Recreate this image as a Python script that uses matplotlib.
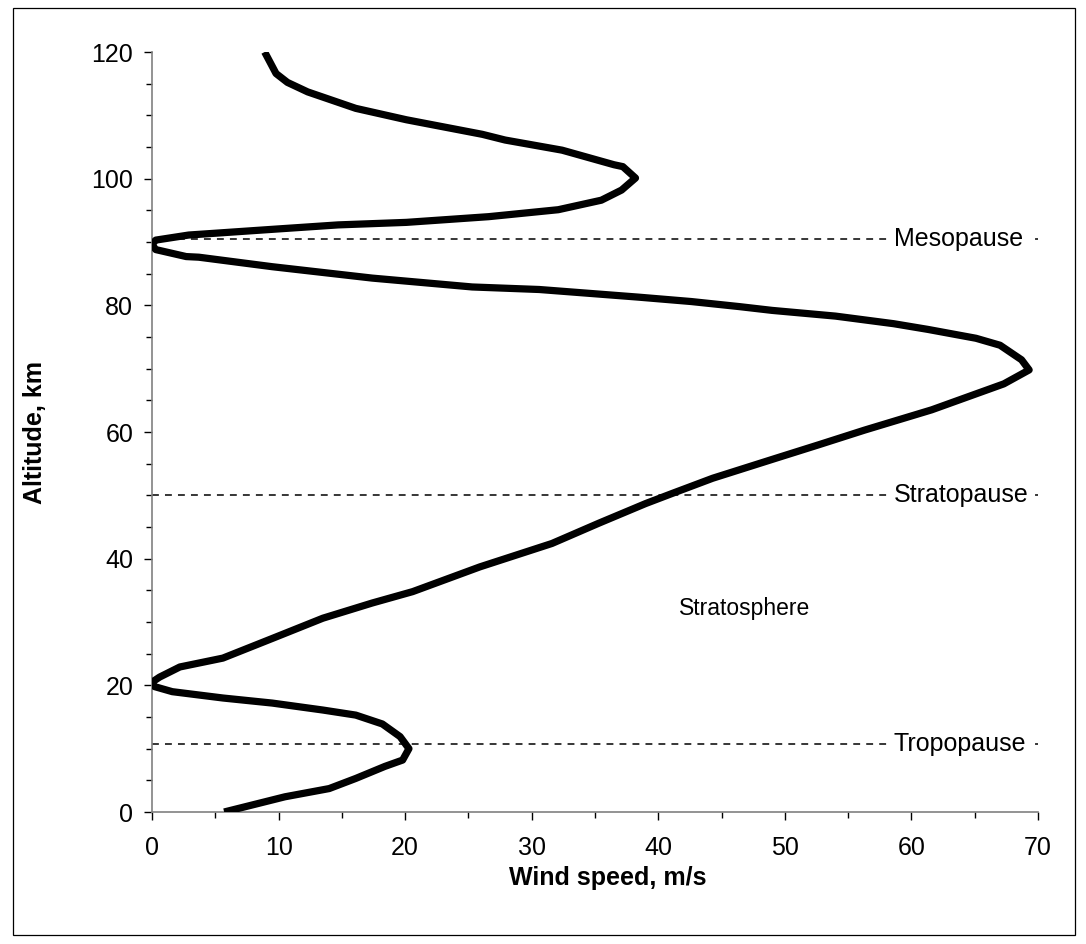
import matplotlib
matplotlib.use("Agg")
import matplotlib.pyplot as plt
from matplotlib.ticker import MultipleLocator
from matplotlib.patches import Rectangle

plt.rcParams['font.family'] = ['Liberation Sans', 'DejaVu Sans']

# Wind speed profile (m/s) vs altitude (km)
wind_speed = [5.7, 10.5, 14.0, 16.1, 18.4, 19.8, 20.3, 19.6, 18.2, 16.1, 13.5, 9.5,
              5.6, 1.6, 0.2, 0.0, 0.6, 2.2, 5.6, 9.5, 13.5, 17.4, 20.6, 25.9, 31.6,
              35.3, 39.0, 41.1, 44.3, 49.2, 52.7, 56.3, 61.6, 67.3, 69.3, 68.7,
              67.0, 65.1, 61.3, 58.6, 54.0, 49.0, 46.4, 42.6, 38.4, 30.6, 25.3, 17.4,
              9.5, 3.7, 2.7, 0.3, 0.0, 0.3, 2.9, 9.5, 14.7, 20.1, 26.6, 32.1, 35.5,
              37.1, 38.2, 37.2, 36.5, 32.4, 27.9, 26.1, 20.1, 16.1, 12.3, 10.7, 9.8, 8.9]
altitude = [0.0, 2.4, 3.7, 5.3, 7.2, 8.2, 10.0, 11.9, 13.9, 15.3, 16.1, 17.2,
            18.0, 19.0, 19.8, 20.5, 21.3, 22.9, 24.3, 27.4, 30.6, 33.0, 34.8, 38.7,
            42.4, 45.6, 48.7, 50.3, 52.7, 55.8, 58.0, 60.3, 63.5, 67.6, 69.8,
            71.4, 73.7, 74.8, 76.2, 77.1, 78.3, 79.2, 79.8, 80.6, 81.3, 82.5, 82.9,
            84.3, 86.1, 87.6, 87.7, 88.8, 89.6, 90.3, 91.1, 92.0, 92.7, 93.1, 94.0,
            95.1, 96.6, 98.2, 100.1, 101.9, 102.2, 104.5, 106.1, 107.0, 109.3,
            111.1, 113.7, 115.2, 116.6, 120.0]

layer_names = ["Mesopause", "Stratopause", "Tropopause"]
layer_heights = [90.5, 50.0, 10.7]
region_label = "Stratosphere"

x_ticks = [0, 10, 20, 30, 40, 50, 60, 70]
y_ticks = [0, 20, 40, 60, 80, 100, 120]

W, H = 1086, 944
fig = plt.figure(figsize=(W / 100, H / 100), dpi=100)
ax = fig.add_axes([152 / W, 1 - 812 / H, (1038 - 152) / W, (812 - 52) / H])

# Outer chart frame
fig.patches.append(Rectangle((13 / W, 1 - 935 / H), (1075 - 13) / W, (935 - 8) / H,
                             transform=fig.transFigure, fill=False, edgecolor='black',
                             linewidth=0.9))

for name, h in zip(layer_names, layer_heights):
    ax.plot([0, 70], [h, h], color='black', lw=1.1, linestyle=(0, (4.5, 4)), zorder=2,
            clip_on=False)
    ax.text(58.6, h, name, fontsize=18, va='center', ha='left', zorder=3,
            bbox=dict(boxstyle='square,pad=0.25', facecolor='white', edgecolor='none'))

ax.plot(wind_speed, altitude, color='black', lw=5.2, solid_joinstyle='round',
        solid_capstyle='butt', zorder=4)

ax.text(46.8, 32.2, region_label, fontsize=16.5, ha='center', va='center')

ax.set_xlim(0, 70)
ax.set_ylim(0, 120)
ax.set_xticks(x_ticks)
ax.set_yticks(y_ticks)
ax.xaxis.set_minor_locator(MultipleLocator(5))
ax.yaxis.set_minor_locator(MultipleLocator(5))
ax.tick_params(which='major', direction='out', length=5.5, width=1.0, color='black',
               labelsize=18)
ax.tick_params(which='minor', direction='out', length=4, width=1.0, color='black')
ax.tick_params(axis='x', which='major', pad=12)
ax.tick_params(axis='y', which='major', pad=8)

for s in ['top', 'right']:
    ax.spines[s].set_visible(False)
for s in ['left', 'bottom']:
    ax.spines[s].set_color('#808080')
    ax.spines[s].set_linewidth(1.2)

ax.set_xlabel("Wind speed, m/s", fontsize=18, fontweight='bold')
ax.set_ylabel("Altitude, km", fontsize=18, fontweight='bold')
ax.xaxis.set_label_coords((608 - 152) / (1038 - 152), -(878 - 812) / (812 - 52),
                          transform=ax.transAxes)
ax.yaxis.set_label_coords(-(152 - 35) / (1038 - 152), 0.5, transform=ax.transAxes)
ax.xaxis.label.set_va('center')
ax.yaxis.label.set_va('center')

fig.savefig("out.png", dpi=100)
